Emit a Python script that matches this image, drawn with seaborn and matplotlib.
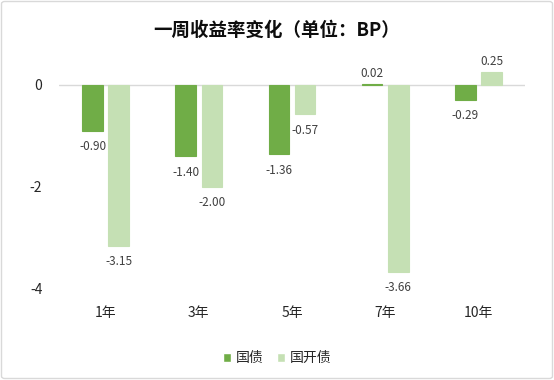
import matplotlib
matplotlib.use("Agg")
import matplotlib.pyplot as plt
import seaborn as sns
import pandas as pd
from matplotlib.patches import FancyBboxPatch

categories = ["1年", "3年", "5年", "7年", "10年"]
series_names = ["国债", "国开债"]
guozhai = [-0.90, -1.40, -1.36, 0.02, -0.29]
guokaizhai = [-3.15, -2.00, -0.57, -3.66, 0.25]
y_ticks = [0, -2, -4]
title = "一周收益率变化（单位：BP）"
colors = ["#70AD47", "#C5E0B4"]

sns.set_theme(style="white")
plt.rcParams["font.family"] = ["Noto Sans CJK SC", "DejaVu Sans"]
plt.rcParams["axes.unicode_minus"] = False

df = pd.DataFrame({
    "期限": categories * 2,
    "系列": [series_names[0]] * len(categories) + [series_names[1]] * len(categories),
    "值": guozhai + guokaizhai,
})

fig = plt.figure(figsize=(5.54, 3.80), dpi=100)
W, H = 554, 380
left, right, top, bottom = 59, 525, 34, 289
ax = fig.add_axes([left / W, (H - bottom) / H, (right - left) / W, (bottom - top) / H])

sns.barplot(data=df, x="期限", y="值", hue="系列", hue_order=series_names,
            palette=colors, width=0.56, gap=0.21, ax=ax, errorbar=None,
            saturation=1)

ax.set_xlim(-0.5, len(categories) - 0.5)
ax.set_ylim(-4, 1)
ax.set_yticks(y_ticks)
ax.set_yticklabels([str(t) for t in y_ticks], fontsize=10, color="#262626")
ax.set_xlabel("")
ax.set_ylabel("")
ax.tick_params(axis="x", length=0, pad=12, labelsize=10, labelcolor="#262626")
ax.tick_params(axis="y", length=0, pad=12)
for s in ax.spines.values():
    s.set_visible(False)
ax.grid(False)
ax.axhline(0, color="#D9D9D9", lw=1.0, zorder=0.5)

vals = [guozhai, guokaizhai]
for cont, v in zip(ax.containers, vals):
    for p, val in zip(cont.patches, v):
        p.set_edgecolor(p.get_facecolor())
        p.set_linewidth(0.8)
        p.set_zorder(2)
        xc = p.get_x() + p.get_width() / 2
        off = 7.4 if val >= 0 else -11.5
        ax.annotate(f"{val:.2f}", (xc, val), xytext=(0, off),
                    textcoords="offset points", ha="center", va="center",
                    fontsize=8.5, color="#404040")

sns.move_legend(ax, "center", bbox_to_anchor=(0.5, (H - 358) / H),
                bbox_transform=fig.transFigure, ncol=2, frameon=False,
                title=None, fontsize=10, handlelength=0.6, handleheight=0.6,
                handletextpad=0.3, columnspacing=1.0)

fig.text(0.5, (H - 30) / H, title, ha="center", va="center",
         fontsize=13.3, fontweight="bold", color="#0D0D0D")

border = FancyBboxPatch((1.5 / W, 1.5 / H), (W - 3) / W, (H - 3) / H,
                        boxstyle="round,pad=0,rounding_size=0.006",
                        transform=fig.transFigure, fill=False,
                        edgecolor="#D9D9D9", lw=1.0)
fig.patches.append(border)

fig.savefig("out.png", dpi=100)
